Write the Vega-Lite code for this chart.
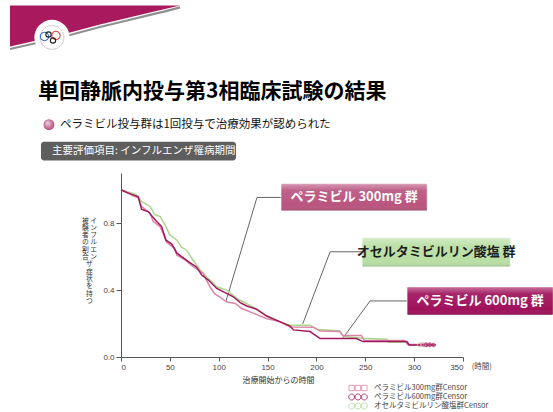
{
  "$schema": "https://vega.github.io/schema/vega-lite/v6.json",
  "width": 342,
  "height": 184,
  "autosize": {"type": "none"},
  "padding": {"left": 121, "top": 173, "right": 90, "bottom": 55},
  "background": "white",
  "config": {"view": {"stroke": null}, "font": "Noto Sans CJK JP"},
  "title": {
    "text": "単回静脈内投与第3相臨床試験の結果",
    "anchor": "start",
    "frame": "group",
    "dx": -83,
    "dy": 99,
    "offset": 0,
    "font": "Noto Sans CJK JP",
    "fontSize": 21,
    "fontWeight": "bold",
    "color": "#000000"
  },
  "datasets": {
    "km": [
      {"s": "オセルタミビルリン酸塩群", "t": 0, "p": 1.0},
      {"s": "オセルタミビルリン酸塩群", "t": 16, "p": 0.97},
      {"s": "オセルタミビルリン酸塩群", "t": 21, "p": 0.93},
      {"s": "オセルタミビルリン酸塩群", "t": 29.7, "p": 0.9},
      {"s": "オセルタミビルリン酸塩群", "t": 34.8, "p": 0.85},
      {"s": "オセルタミビルリン酸塩群", "t": 40, "p": 0.84},
      {"s": "オセルタミビルリン酸塩群", "t": 45, "p": 0.79},
      {"s": "オセルタミビルリン酸塩群", "t": 50, "p": 0.73},
      {"s": "オセルタミビルリン酸塩群", "t": 57, "p": 0.7},
      {"s": "オセルタミビルリン酸塩群", "t": 62, "p": 0.657},
      {"s": "オセルタミビルリン酸塩群", "t": 67, "p": 0.64},
      {"s": "オセルタミビルリン酸塩群", "t": 70.6, "p": 0.605},
      {"s": "オセルタミビルリン酸塩群", "t": 81, "p": 0.52},
      {"s": "オセルタミビルリン酸塩群", "t": 87.7, "p": 0.48},
      {"s": "オセルタミビルリン酸塩群", "t": 98, "p": 0.42},
      {"s": "オセルタミビルリン酸塩群", "t": 108, "p": 0.4},
      {"s": "オセルタミビルリン酸塩群", "t": 120, "p": 0.345},
      {"s": "オセルタミビルリン酸塩群", "t": 135, "p": 0.3},
      {"s": "オセルタミビルリン酸塩群", "t": 150, "p": 0.245},
      {"s": "オセルタミビルリン酸塩群", "t": 163, "p": 0.21},
      {"s": "オセルタミビルリン酸塩群", "t": 173, "p": 0.19},
      {"s": "オセルタミビルリン酸塩群", "t": 193.5, "p": 0.19},
      {"s": "オセルタミビルリン酸塩群", "t": 200, "p": 0.166},
      {"s": "オセルタミビルリン酸塩群", "t": 224, "p": 0.156},
      {"s": "オセルタミビルリン酸塩群", "t": 227.6, "p": 0.122},
      {"s": "オセルタミビルリン酸塩群", "t": 248, "p": 0.112},
      {"s": "オセルタミビルリン酸塩群", "t": 272, "p": 0.106},
      {"s": "オセルタミビルリン酸塩群", "t": 274, "p": 0.088},
      {"s": "オセルタミビルリン酸塩群", "t": 292, "p": 0.088},
      {"s": "オセルタミビルリン酸塩群", "t": 294, "p": 0.072},
      {"s": "オセルタミビルリン酸塩群", "t": 318, "p": 0.072},
      {"s": "ペラミビル300mg群", "t": 0, "p": 1.0},
      {"s": "ペラミビル300mg群", "t": 12.6, "p": 0.964},
      {"s": "ペラミビル300mg群", "t": 17.7, "p": 0.95},
      {"s": "ペラミビル300mg群", "t": 21, "p": 0.9},
      {"s": "ペラミビル300mg群", "t": 29.7, "p": 0.86},
      {"s": "ペラミビル300mg群", "t": 33, "p": 0.81},
      {"s": "ペラミビル300mg群", "t": 40, "p": 0.78},
      {"s": "ペラミビル300mg群", "t": 46.8, "p": 0.684},
      {"s": "ペラミビル300mg群", "t": 55, "p": 0.65},
      {"s": "ペラミビル300mg群", "t": 57, "p": 0.61},
      {"s": "ペラミビル300mg群", "t": 65.5, "p": 0.58},
      {"s": "ペラミビル300mg群", "t": 74, "p": 0.54},
      {"s": "ペラミビル300mg群", "t": 84, "p": 0.5},
      {"s": "ペラミビル300mg群", "t": 91, "p": 0.42},
      {"s": "ペラミビル300mg群", "t": 96, "p": 0.377},
      {"s": "ペラミビル300mg群", "t": 101, "p": 0.36},
      {"s": "ペラミビル300mg群", "t": 108, "p": 0.33},
      {"s": "ペラミビル300mg群", "t": 117, "p": 0.32},
      {"s": "ペラミビル300mg群", "t": 123.6, "p": 0.29},
      {"s": "ペラミビル300mg群", "t": 132, "p": 0.27},
      {"s": "ペラミビル300mg群", "t": 149, "p": 0.23},
      {"s": "ペラミビル300mg群", "t": 163, "p": 0.21},
      {"s": "ペラミビル300mg群", "t": 173, "p": 0.18},
      {"s": "ペラミビル300mg群", "t": 197, "p": 0.178},
      {"s": "ペラミビル300mg群", "t": 203.7, "p": 0.155},
      {"s": "ペラミビル300mg群", "t": 224, "p": 0.152},
      {"s": "ペラミビル300mg群", "t": 227, "p": 0.128},
      {"s": "ペラミビル300mg群", "t": 246, "p": 0.128},
      {"s": "ペラミビル300mg群", "t": 249, "p": 0.1},
      {"s": "ペラミビル300mg群", "t": 290, "p": 0.098},
      {"s": "ペラミビル300mg群", "t": 293.6, "p": 0.074},
      {"s": "ペラミビル300mg群", "t": 320, "p": 0.074},
      {"s": "ペラミビル600mg群", "t": 0, "p": 1.0},
      {"s": "ペラミビル600mg群", "t": 5.8, "p": 0.984},
      {"s": "ペラミビル600mg群", "t": 11, "p": 0.972},
      {"s": "ペラミビル600mg群", "t": 17.7, "p": 0.958},
      {"s": "ペラミビル600mg群", "t": 21, "p": 0.884},
      {"s": "ペラミビル600mg群", "t": 28, "p": 0.868},
      {"s": "ペラミビル600mg群", "t": 36.5, "p": 0.81},
      {"s": "ペラミビル600mg群", "t": 41.6, "p": 0.78},
      {"s": "ペラミビル600mg群", "t": 46, "p": 0.698},
      {"s": "ペラミビル600mg群", "t": 52, "p": 0.675},
      {"s": "ペラミビル600mg群", "t": 57, "p": 0.622},
      {"s": "ペラミビル600mg群", "t": 62, "p": 0.6},
      {"s": "ペラミビル600mg群", "t": 69, "p": 0.57},
      {"s": "ペラミビル600mg群", "t": 77.5, "p": 0.537},
      {"s": "ペラミビル600mg群", "t": 82.6, "p": 0.49},
      {"s": "ペラミビル600mg群", "t": 89.4, "p": 0.46},
      {"s": "ペラミビル600mg群", "t": 98, "p": 0.41},
      {"s": "ペラミビル600mg群", "t": 108, "p": 0.38},
      {"s": "ペラミビル600mg群", "t": 115, "p": 0.36},
      {"s": "ペラミビル600mg群", "t": 122, "p": 0.325},
      {"s": "ペラミビル600mg群", "t": 128.7, "p": 0.305},
      {"s": "ペラミビル600mg群", "t": 139, "p": 0.285},
      {"s": "ペラミビル600mg群", "t": 149, "p": 0.245},
      {"s": "ペラミビル600mg群", "t": 163, "p": 0.21},
      {"s": "ペラミビル600mg群", "t": 173, "p": 0.185},
      {"s": "ペラミビル600mg群", "t": 176.5, "p": 0.162},
      {"s": "ペラミビル600mg群", "t": 193.5, "p": 0.152},
      {"s": "ペラミビル600mg群", "t": 203.7, "p": 0.11},
      {"s": "ペラミビル600mg群", "t": 241, "p": 0.11},
      {"s": "ペラミビル600mg群", "t": 247.6, "p": 0.092},
      {"s": "ペラミビル600mg群", "t": 292.5, "p": 0.092},
      {"s": "ペラミビル600mg群", "t": 295, "p": 0.072},
      {"s": "ペラミビル600mg群", "t": 322, "p": 0.072}
    ],
    "censor": [
      {"s": "オセルタミビルリン酸塩群", "t": 309, "p": 0.072},
      {"s": "ペラミビル300mg群", "t": 312, "p": 0.074},
      {"s": "ペラミビル600mg群", "t": 316, "p": 0.072}
    ],
    "callouts": [
      {"s": "ペラミビル300mg群", "label": "ペラミビル 300mg 群", "t": 163.8, "t2": 313.3, "p": 0.874, "p2": 1.036, "ct": 238.5, "cp": 0.955},
      {"s": "オセルタミビルリン酸塩群", "label": "オセルタミビルリン酸塩 群", "t": 246.8, "t2": 398.3, "p": 0.539, "p2": 0.713, "ct": 322.5, "cp": 0.626},
      {"s": "ペラミビル600mg群", "label": "ペラミビル 600mg 群", "t": 292.8, "t2": 442.3, "p": 0.251, "p2": 0.419, "ct": 367.5, "cp": 0.335}
    ],
    "leaders": [
      {"s": "ペラミビル300mg群", "k": 0, "t": 163.8, "p": 0.954},
      {"s": "ペラミビル300mg群", "k": 1, "t": 139.2, "p": 0.954},
      {"s": "ペラミビル300mg群", "k": 2, "t": 107.5, "p": 0.335},
      {"s": "オセルタミビルリン酸塩群", "k": 0, "t": 246.8, "p": 0.629},
      {"s": "オセルタミビルリン酸塩群", "k": 1, "t": 214, "p": 0.629},
      {"s": "オセルタミビルリン酸塩群", "k": 2, "t": 186, "p": 0.198},
      {"s": "ペラミビル600mg群", "k": 0, "t": 292.8, "p": 0.335},
      {"s": "ペラミビル600mg群", "k": 1, "t": 254.9, "p": 0.335},
      {"s": "ペラミビル600mg群", "k": 2, "t": 227.3, "p": 0.114}
    ],
    "header": [
      {"label": "主要評価項目: インフルエンザ罹病期間", "t": -81.9, "t2": 117.7, "p": 1.174, "p2": 1.287, "ct": -70.6, "cp": 1.231}
    ],
    "lead": [{"label": "ペラミビル投与群は1回投与で治療効果が認められた", "t": -62.5, "p": 1.389}],
    "bullet": [{"t": -73.7, "p": 1.389}],
    "swoosh": [
      {"t": -113.6, "p": 2.102, "p2": 1.856, "ps": 1.841},
      {"t": -93.2, "p": 2.102, "p2": 1.883, "ps": 1.868},
      {"t": -72.7, "p": 2.102, "p2": 1.91, "ps": 1.895},
      {"t": -52.2, "p": 2.102, "p2": 1.94, "ps": 1.925},
      {"t": -21.5, "p": 2.102, "p2": 1.988, "ps": 1.973},
      {"t": 4.1, "p": 2.102, "p2": 2.024, "ps": 2.009},
      {"t": 29.7, "p": 2.102, "p2": 2.06, "ps": 2.045},
      {"t": 45.0, "p": 2.102, "p2": 2.081, "ps": 2.066},
      {"t": 60.4, "p": 2.102, "p2": 2.102, "ps": 2.09}
    ],
    "logo": [{"t": -70.6, "p": 1.91}],
    "emblem": [
      {"k": "b", "t": -78.3, "p": 1.916},
      {"k": "r", "t": -66.6, "p": 1.922},
      {"k": "k", "t": -74.2, "p": 1.928},
      {"k": "k", "t": -69.6, "p": 1.892}
    ],
    "unit": [{"label": "(時間)", "t": 359, "p": -0.06}]
  },
  "layer": [
    {
      "data": {"name": "swoosh"},
      "mark": {"type": "area", "color": "#a8195e", "opacity": 1},
      "encoding": {
        "x": {"field": "t", "type": "quantitative"},
        "y": {"field": "p", "type": "quantitative"},
        "y2": {"field": "p2"}
      }
    },
    {
      "data": {"name": "swoosh"},
      "mark": {"type": "line", "color": "#8f8f8f", "strokeWidth": 2.2},
      "encoding": {
        "x": {"field": "t", "type": "quantitative"},
        "y": {"field": "ps", "type": "quantitative"}
      }
    },
    {
      "data": {"name": "logo"},
      "mark": {"type": "point", "shape": "circle", "filled": true, "fill": "#ffffff", "opacity": 1, "size": 1250, "strokeWidth": 0},
      "encoding": {
        "x": {"field": "t", "type": "quantitative"},
        "y": {"field": "p", "type": "quantitative"}
      }
    },
    {
      "data": {"name": "logo"},
      "mark": {"type": "point", "shape": "circle", "filled": false, "stroke": "#9a9a9a", "opacity": 1, "size": 560, "strokeWidth": 1, "strokeDash": [1, 1]},
      "encoding": {
        "x": {"field": "t", "type": "quantitative"},
        "y": {"field": "p", "type": "quantitative"}
      }
    },
    {
      "data": {"name": "emblem"},
      "mark": {"type": "point", "shape": "circle", "filled": false, "opacity": 1, "strokeWidth": 1.1},
      "encoding": {
        "x": {"field": "t", "type": "quantitative"},
        "y": {"field": "p", "type": "quantitative"},
        "stroke": {"condition": [{"test": "datum.k == 'b'", "value": "#3f6fd6"}, {"test": "datum.k == 'r'", "value": "#d8403a"}], "value": "#222222"},
        "size": {"condition": {"test": "datum.k == 'k'", "value": 28}, "value": 70}
      }
    },
    {
      "data": {"name": "leaders"},
      "mark": {"type": "line", "color": "#555555", "strokeWidth": 0.9},
      "encoding": {
        "x": {"field": "t", "type": "quantitative"},
        "y": {"field": "p", "type": "quantitative"},
        "detail": {"field": "s"},
        "order": {"field": "k"}
      }
    },
    {
      "data": {"name": "km"},
      "mark": {"type": "line", "strokeWidth": 1.5, "interpolate": "linear"},
      "encoding": {
        "x": {
          "field": "t", "type": "quantitative",
          "scale": {"domain": [0, 350], "nice": false, "zero": false},
          "axis": {
            "values": [0, 50, 100, 150, 200, 250, 300, 350],
            "title": "治療開始からの時間",
            "titleFont": "Noto Sans CJK JP",
            "titleFontSize": 8,
            "titleFontWeight": "normal",
            "titleColor": "#333333",
            "titleX": 157,
            "titleY": 23,
            "titleBaseline": "middle",
            "titleAlign": "center",
            "labelFont": "Liberation Sans",
            "labelFontSize": 8,
            "labelColor": "#444444",
            "labelPadding": 2,
            "tickSize": 4,
            "tickColor": "#555555",
            "domainColor": "#555555",
            "grid": false
          }
        },
        "y": {
          "field": "p", "type": "quantitative",
          "scale": {"domain": [0, 1.1], "nice": false},
          "axis": {
            "values": [0, 0.1, 0.2, 0.3, 0.4, 0.5, 0.6, 0.7, 0.8, 0.9, 1.0],
            "labelExpr": "round(datum.value*10) % 2 == 0 ? format(datum.value, '.1f') : ''",
            "labelOverlap": false,
            "tickSize": {"condition": {"test": "round(datum.value*10) % 2 == 1", "value": 3}, "value": 5},
            "title": ["被 イ", "験 ン", "者 フ", "の ル", "割 エ", "合 ン", "　 ザ", "　 症", "　 状", "　 を", "　 持", "　 つ"],
            "titleAngle": 0,
            "titleX": -32,
            "titleY": 44,
            "titleAlign": "center",
            "titleBaseline": "top",
            "titleFont": "Noto Sans CJK JP",
            "titleFontSize": 6.8,
            "titleLineHeight": 7.3,
            "titleFontWeight": "normal",
            "titleColor": "#333333",
            "labelFont": "Liberation Sans",
            "labelFontSize": 8,
            "labelColor": "#444444",
            "labelPadding": 2,
            "tickColor": "#555555",
            "domainColor": "#555555",
            "grid": false
          }
        },
        "color": {
          "field": "s", "type": "nominal",
          "scale": {
            "domain": ["ペラミビル300mg群", "ペラミビル600mg群", "オセルタミビルリン酸塩群"],
            "range": ["#dc85a8", "#a3175d", "#a9d98f"]
          },
          "legend": {
            "orient": "none", "legendX": 233, "legendY": 211, "title": null,
            "labelExpr": "datum.label + 'Censor'",
            "labelFont": "Noto Sans CJK JP", "labelFontSize": 7.5, "labelColor": "#444444",
            "symbolSize": 40, "labelOffset": 12, "rowPadding": -3, "padding": 0,
            "symbolStrokeWidth": 0.8, "symbolFillColor": "transparent",
            "encode": {"symbols": {"update": {"fill": {"value": "transparent"}, "fillOpacity": {"value": 0}, "strokeWidth": {"value": 0.8}}}}
          }
        }
      }
    },
    {
      "data": {"name": "censor"},
      "mark": {"type": "point", "filled": false, "strokeWidth": 0.8, "size": 14, "opacity": 1},
      "encoding": {
        "x": {"field": "t", "type": "quantitative"},
        "y": {"field": "p", "type": "quantitative"},
        "color": {"field": "s", "type": "nominal"},
        "shape": {
          "field": "s", "type": "nominal",
          "scale": {
            "domain": ["ペラミビル300mg群", "ペラミビル600mg群", "オセルタミビルリン酸塩群"],
            "range": [
              "M-2.85,-0.85h1.7v1.7h-1.7z M-0.85,-0.85h1.7v1.7h-1.7z M1.15,-0.85h1.7v1.7h-1.7z",
              "M-2.95,0a0.95,0.95 0 1,0 1.9,0a0.95,0.95 0 1,0 -1.9,0z M-0.95,0a0.95,0.95 0 1,0 1.9,0a0.95,0.95 0 1,0 -1.9,0z M1.05,0a0.95,0.95 0 1,0 1.9,0a0.95,0.95 0 1,0 -1.9,0z",
              "M-2.95,0a0.95,0.95 0 1,0 1.9,0a0.95,0.95 0 1,0 -1.9,0z M-0.95,0a0.95,0.95 0 1,0 1.9,0a0.95,0.95 0 1,0 -1.9,0z M1.05,0a0.95,0.95 0 1,0 1.9,0a0.95,0.95 0 1,0 -1.9,0z"
            ]
          },
          "legend": {
            "orient": "none", "legendX": 233, "legendY": 211, "title": null,
            "labelExpr": "datum.label + 'Censor'",
            "labelFont": "Noto Sans CJK JP", "labelFontSize": 7.5, "labelColor": "#444444",
            "symbolSize": 40, "labelOffset": 12, "rowPadding": -3, "padding": 0,
            "symbolStrokeWidth": 0.8, "symbolFillColor": "transparent",
            "encode": {"symbols": {"update": {"fill": {"value": "transparent"}, "fillOpacity": {"value": 0}, "strokeWidth": {"value": 0.8}}}}
          }
        }
      }
    },
    {
      "data": {"name": "callouts"},
      "mark": {"type": "rect", "cornerRadius": 1, "stroke": "#ffffff", "strokeWidth": 0.5},
      "encoding": {
        "x": {"field": "t", "type": "quantitative"},
        "x2": {"field": "t2"},
        "y": {"field": "p", "type": "quantitative"},
        "y2": {"field": "p2"},
        "fill": {
          "field": "s", "type": "nominal",
          "scale": {
            "domain": ["ペラミビル300mg群", "ペラミビル600mg群", "オセルタミビルリン酸塩群"],
            "range": ["#b9557f", "#a0125c", "#b9dfa4"]
          },
          "legend": null
        }
      }
    },
    {
      "data": {"name": "callouts"},
      "mark": {
        "type": "rect", "cornerRadius": 1,
        "fill": {"gradient": "linear", "x1": 0, "y1": 0, "x2": 0, "y2": 1,
          "stops": [{"offset": 0, "color": "rgba(255,255,255,0.4)"}, {"offset": 0.25, "color": "rgba(255,255,255,0.08)"}, {"offset": 0.8, "color": "rgba(255,255,255,0)"}, {"offset": 1, "color": "rgba(0,0,0,0.12)"}]}
      },
      "encoding": {
        "x": {"field": "t", "type": "quantitative"},
        "x2": {"field": "t2"},
        "y": {"field": "p", "type": "quantitative"},
        "y2": {"field": "p2"}
      }
    },
    {
      "data": {"name": "callouts"},
      "mark": {"type": "text", "font": "Noto Sans CJK JP", "fontWeight": "bold", "fontSize": 13, "align": "center", "baseline": "middle"},
      "encoding": {
        "x": {"field": "ct", "type": "quantitative"},
        "y": {"field": "cp", "type": "quantitative"},
        "text": {"field": "label"},
        "color": {"condition": {"test": "datum.s == 'オセルタミビルリン酸塩群'", "value": "#1e1e1e"}, "value": "#ffffff"}
      }
    },
    {
      "data": {"name": "header"},
      "mark": {"type": "rect", "fill": "#5e5e5e", "cornerRadius": 3},
      "encoding": {
        "x": {"field": "t", "type": "quantitative"},
        "x2": {"field": "t2"},
        "y": {"field": "p", "type": "quantitative"},
        "y2": {"field": "p2"}
      }
    },
    {
      "data": {"name": "header"},
      "mark": {"type": "text", "font": "Noto Sans CJK JP", "fontSize": 10.5, "align": "left", "baseline": "middle", "color": "#ffffff"},
      "encoding": {
        "x": {"field": "ct", "type": "quantitative"},
        "y": {"field": "cp", "type": "quantitative"},
        "text": {"field": "label"}
      }
    },
    {
      "data": {"name": "lead"},
      "mark": {"type": "text", "font": "Noto Sans CJK JP", "fontSize": 11.5, "align": "left", "baseline": "middle", "color": "#111111"},
      "encoding": {
        "x": {"field": "t", "type": "quantitative"},
        "y": {"field": "p", "type": "quantitative"},
        "text": {"field": "label"}
      }
    },
    {
      "data": {"name": "bullet"},
      "mark": {
        "type": "point", "filled": true, "size": 120, "shape": "circle", "opacity": 1,
        "fill": {"gradient": "radial", "x1": 0.35, "y1": 0.3, "r1": 0, "x2": 0.5, "y2": 0.5, "r2": 0.6,
          "stops": [{"offset": 0, "color": "#f6d6e4"}, {"offset": 1, "color": "#a8386e"}]}
      },
      "encoding": {
        "x": {"field": "t", "type": "quantitative"},
        "y": {"field": "p", "type": "quantitative"}
      }
    },
    {
      "data": {"name": "unit"},
      "mark": {"type": "text", "font": "Noto Sans CJK JP", "fontSize": 7.5, "align": "left", "baseline": "middle", "color": "#444444"},
      "encoding": {
        "x": {"field": "t", "type": "quantitative"},
        "y": {"field": "p", "type": "quantitative"},
        "text": {"field": "label"}
      }
    }
  ]
}
